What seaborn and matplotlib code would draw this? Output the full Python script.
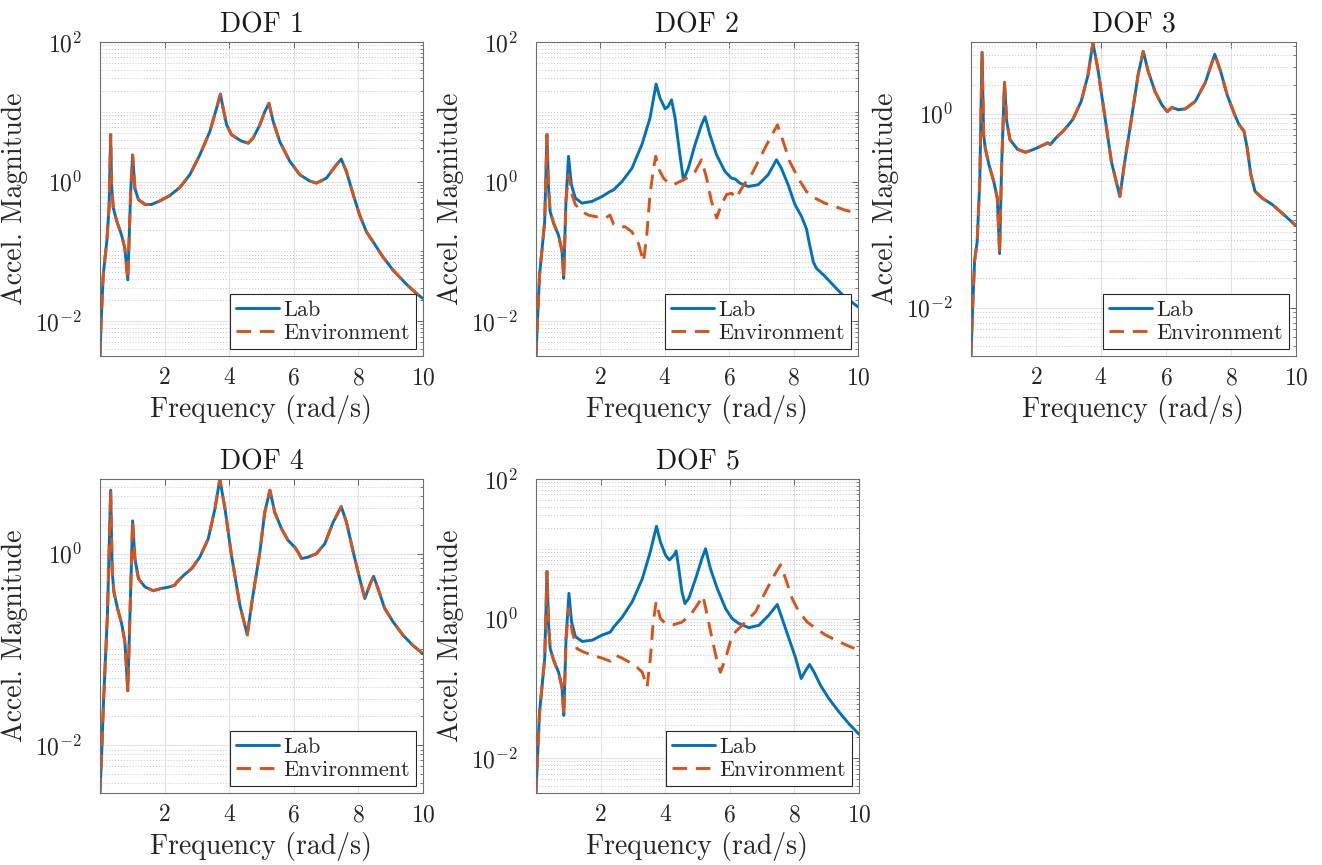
import numpy as np
import pandas as pd
import matplotlib
matplotlib.use("Agg")
import matplotlib.pyplot as plt
import seaborn as sns
from matplotlib.ticker import FixedLocator, FixedFormatter, LogLocator, NullFormatter, NullLocator

sns.set_style("white")
plt.rcParams['font.family'] = 'serif'
plt.rcParams['font.serif'] = ['cmr10']
plt.rcParams['mathtext.fontset'] = 'cm'
plt.rcParams['axes.formatter.use_mathtext'] = True


# values (frequency in rad/s, acceleration magnitude)
dof1_x = [0, 0.04, 0.10, 0.21, 0.28, 0.33, 0.36, 0.41, 0.52, 0.67, 0.77, 0.86, 0.95, 1.01, 1.08,
          1.19, 1.39, 1.60, 1.86, 2.16, 2.47, 2.78, 3.09, 3.40, 3.61, 3.73, 3.81, 3.92, 4.07, 4.23,
          4.38, 4.59, 4.74, 4.95, 5.10, 5.23, 5.36, 5.57, 5.88, 6.19, 6.49, 6.70, 7.01, 7.32, 7.47,
          7.63, 7.84, 8.04, 8.25, 8.45, 8.76, 9.07, 9.48, 9.79, 10.0]
dof1_lab = [0.0032, 0.011, 0.046, 0.138, 0.42, 4.7, 0.89, 0.42, 0.27, 0.17, 0.11, 0.039, 0.72, 2.4, 0.8,
            0.55, 0.47, 0.47, 0.53, 0.63, 0.82, 1.25, 2.4, 5.2, 11.3, 17.9, 11.3, 6.5, 4.7, 4.2,
            3.8, 3.55, 4.2, 6.5, 10.0, 13.2, 7.3, 3.7, 1.94, 1.25, 1.02, 0.95, 1.12, 1.74, 2.1,
            1.39, 0.65, 0.33, 0.19, 0.138, 0.083, 0.054, 0.034, 0.025, 0.021]
dof1_env = list(dof1_lab)

dof2_x = [0, 0.05, 0.11, 0.19, 0.27, 0.34, 0.39, 0.44, 0.55, 0.70, 0.81, 0.86, 0.93, 1.01, 1.10,
          1.22, 1.43, 1.74, 2.05, 2.30, 2.41, 2.67, 2.98, 3.29, 3.54, 3.73, 3.85, 4.01, 4.11, 4.21,
          4.32, 4.47, 4.58, 4.73, 4.94, 5.14, 5.25, 5.40, 5.61, 5.87, 6.07, 6.18, 6.33, 6.59, 6.90,
          7.21, 7.47, 7.62, 7.83, 8.04, 8.24, 8.40, 8.50, 8.61, 8.71, 8.97, 9.28, 9.59, 9.79, 10.0]
dof2_lab = [0.0032, 0.011, 0.046, 0.11, 0.27, 4.7, 0.8, 0.37, 0.25, 0.17, 0.10, 0.041, 0.52, 2.3, 0.9,
            0.58, 0.49, 0.52, 0.61, 0.72, 0.76, 1.0, 1.55, 3.4, 8.1, 25.0, 15.8, 11.0, 12.0, 14.8,
            8.1, 2.4, 1.05, 1.55, 3.4, 6.5, 8.5, 4.7, 2.4, 1.39, 1.12, 1.09, 0.95, 0.85, 0.9,
            1.25, 2.05, 1.55, 0.9, 0.47, 0.32, 0.21, 0.123, 0.071, 0.057, 0.044, 0.031, 0.022, 0.019, 0.016]
dof2_env_x = [0, 0.05, 0.11, 0.19, 0.27, 0.34, 0.39, 0.44, 0.55, 0.70, 0.81, 0.86, 0.93, 1.01, 1.12,
              1.22, 1.43, 1.63, 1.84, 2.15, 2.30, 2.41, 2.56, 2.77, 2.98, 3.18, 3.34, 3.44, 3.54, 3.65,
              3.72, 3.80, 3.96, 4.11, 4.27, 4.47, 4.68, 4.94, 5.14, 5.30, 5.45, 5.61, 5.76, 5.92, 6.07,
              6.23, 6.33, 6.49, 6.69, 6.90, 7.21, 7.50, 7.68, 7.88, 8.14, 8.40, 8.66, 8.97, 9.28, 9.59, 10.0]
dof2_env = [0.0032, 0.011, 0.046, 0.11, 0.27, 4.7, 0.8, 0.37, 0.25, 0.17, 0.10, 0.041, 0.52, 1.25, 0.65,
            0.47, 0.37, 0.33, 0.315, 0.30, 0.33, 0.245, 0.225, 0.225, 0.19, 0.13, 0.071, 0.17, 0.65, 1.55,
            2.3, 1.55, 1.12, 0.95, 0.9, 1.0, 1.12, 1.39, 2.05, 1.12, 0.52, 0.30, 0.47, 0.65, 0.68,
            0.58, 0.72, 0.95, 1.25, 1.94, 3.7, 6.5, 3.7, 1.94, 1.12, 0.72, 0.58, 0.49, 0.44, 0.39, 0.35]

dof3_x = [0, 0.05, 0.11, 0.19, 0.27, 0.34, 0.39, 0.44, 0.55, 0.70, 0.81, 0.88, 0.94, 1.03, 1.10,
          1.20, 1.43, 1.68, 1.94, 2.25, 2.36, 2.44, 2.61, 2.87, 3.13, 3.39, 3.60, 3.75, 3.90, 4.11,
          4.32, 4.58, 4.73, 4.94, 5.14, 5.30, 5.45, 5.66, 5.87, 6.04, 6.18, 6.38, 6.59, 6.90, 7.21,
          7.50, 7.68, 7.88, 8.09, 8.24, 8.40, 8.50, 8.61, 8.74, 8.97, 9.28, 9.59, 9.79, 10.0]
dof3_lab = [0.0032, 0.0098, 0.030, 0.048, 0.20, 4.3, 0.60, 0.44, 0.30, 0.20, 0.134, 0.036, 0.27, 2.1, 0.83,
            0.54, 0.43, 0.40, 0.43, 0.48, 0.50, 0.48, 0.56, 0.68, 0.87, 1.34, 2.5, 5.4, 2.95, 0.98,
            0.32, 0.14, 0.32, 0.90, 2.5, 4.4, 2.75, 1.70, 1.24, 1.05, 1.16, 1.10, 1.12, 1.34, 2.1,
            4.1, 2.75, 1.57, 1.02, 0.78, 0.66, 0.44, 0.235, 0.158, 0.134, 0.115, 0.093, 0.081, 0.070]
dof3_env = list(dof3_lab)

dof4_x = [0, 0.05, 0.10, 0.15, 0.23, 0.33, 0.38, 0.43, 0.54, 0.67, 0.77, 0.86, 0.93, 1.01, 1.08,
          1.19, 1.39, 1.65, 1.86, 2.16, 2.32, 2.37, 2.58, 2.84, 3.09, 3.35, 3.56, 3.71, 3.87, 4.07,
          4.33, 4.56, 4.72, 4.95, 5.10, 5.26, 5.41, 5.62, 5.82, 6.03, 6.13, 6.24, 6.44, 6.70, 6.96,
          7.22, 7.47, 7.63, 7.84, 8.04, 8.20, 8.35, 8.47, 8.61, 8.81, 9.07, 9.38, 9.69, 10.0]
dof4_lab = [0.0032, 0.0078, 0.024, 0.058, 0.23, 4.6, 0.64, 0.40, 0.27, 0.186, 0.12, 0.037, 0.245, 2.2, 0.89,
            0.55, 0.45, 0.41, 0.43, 0.45, 0.47, 0.50, 0.59, 0.70, 0.92, 1.43, 2.95, 6.0, 2.95, 0.96,
            0.29, 0.142, 0.34, 1.04, 2.7, 4.6, 2.7, 1.82, 1.38, 1.17, 1.04, 0.89, 0.92, 1.0, 1.27,
            2.14, 3.1, 2.14, 1.04, 0.55, 0.34, 0.47, 0.58, 0.43, 0.27, 0.195, 0.141, 0.11, 0.090]
dof4_env = list(dof4_lab)

dof5_x = [0, 0.05, 0.11, 0.19, 0.27, 0.34, 0.39, 0.44, 0.55, 0.70, 0.81, 0.86, 0.93, 1.02, 1.10,
          1.22, 1.43, 1.74, 2.05, 2.30, 2.41, 2.67, 2.98, 3.29, 3.54, 3.73, 3.85, 4.01, 4.13, 4.27,
          4.34, 4.42, 4.52, 4.61, 4.73, 4.94, 5.14, 5.25, 5.40, 5.61, 5.87, 6.07, 6.28, 6.59, 6.90,
          7.21, 7.47, 7.62, 7.83, 8.04, 8.21, 8.35, 8.47, 8.61, 8.81, 9.07, 9.38, 9.69, 10.0]
dof5_lab = [0.0032, 0.011, 0.046, 0.11, 0.27, 4.7, 0.8, 0.37, 0.25, 0.17, 0.10, 0.041, 0.52, 2.3, 0.9,
            0.55, 0.47, 0.49, 0.58, 0.64, 0.76, 1.05, 1.74, 3.7, 9.1, 21.0, 12.6, 8.1, 6.9, 8.1,
            9.3, 5.2, 2.4, 1.64, 1.94, 3.7, 7.3, 10.0, 5.2, 2.7, 1.39, 1.0, 0.85, 0.74, 0.80,
            1.12, 1.59, 1.0, 0.52, 0.27, 0.138, 0.18, 0.22, 0.17, 0.11, 0.071, 0.046, 0.031, 0.022]
dof5_env_x = [0, 0.05, 0.11, 0.19, 0.27, 0.34, 0.39, 0.44, 0.55, 0.70, 0.81, 0.86, 0.93, 1.01, 1.12,
              1.27, 1.48, 1.74, 2.05, 2.30, 2.46, 2.67, 2.87, 3.13, 3.29, 3.44, 3.54, 3.63, 3.72, 3.85,
              4.01, 4.27, 4.52, 4.78, 4.99, 5.17, 5.30, 5.45, 5.61, 5.71, 5.87, 6.02, 6.18, 6.38, 6.59,
              6.80, 7.00, 7.31, 7.57, 7.73, 7.93, 8.14, 8.40, 8.66, 8.97, 9.28, 9.59, 10.0]
dof5_env = [0.0032, 0.011, 0.046, 0.11, 0.27, 4.7, 0.8, 0.37, 0.25, 0.17, 0.10, 0.041, 0.52, 1.39, 0.65,
            0.37, 0.33, 0.30, 0.27, 0.245, 0.30, 0.27, 0.24, 0.20, 0.17, 0.105, 0.27, 0.89, 1.74, 1.0,
            0.85, 0.82, 0.89, 1.12, 1.55, 2.1, 1.12, 0.52, 0.24, 0.17, 0.27, 0.47, 0.65, 0.80, 1.0,
            1.25, 1.94, 3.7, 5.9, 3.7, 1.94, 1.25, 0.89, 0.72, 0.58, 0.49, 0.42, 0.35]

titles = ["DOF 1", "DOF 2", "DOF 3", "DOF 4", "DOF 5"]
series = [(dof1_x, dof1_lab, dof1_x, dof1_env),
          (dof2_x, dof2_lab, dof2_env_x, dof2_env),
          (dof3_x, dof3_lab, dof3_x, dof3_env),
          (dof4_x, dof4_lab, dof4_x, dof4_env),
          (dof5_x, dof5_lab, dof5_env_x, dof5_env)]
ylims = [(10**-2.5, 100), (10**-2.5, 100), (10**-2.5, 10**0.74), (10**-2.5, 10**0.78), (10**-2.5, 100)]

# axes boxes in pixels (left, top, right, bottom)
W, H = 1322, 865
boxes = [(100, 42, 423, 356), (536, 42, 858, 356), (971, 42, 1296, 356),
         (100, 479, 423, 793), (536, 479, 859, 793)]

blue = "#0072BD"
orange = "#D95319"

fig = plt.figure(figsize=(13.22, 8.65), dpi=100)
fig.patch.set_facecolor("white")

for i in range(5):
    l, t, r, b = boxes[i]
    ax = fig.add_axes([l / W, 1 - b / H, (r - l) / W, (b - t) / H])
    lab_x, lab_y, env_x, env_y = series[i]
    df = pd.concat([pd.DataFrame({"freq": lab_x, "mag": lab_y, "src": "Lab"}),
                    pd.DataFrame({"freq": env_x, "mag": env_y, "src": "Environment"})])
    sns.lineplot(data=df[df.src == "Lab"], x="freq", y="mag", color=blue, linewidth=2.1,
                 estimator=None, sort=False, label="Lab", ax=ax)
    sns.lineplot(data=df[df.src == "Environment"], x="freq", y="mag", color=orange, linewidth=2.1,
                 linestyle=(0, (5, 3)), estimator=None, sort=False, label="Environment", ax=ax)

    ax.set_yscale("log")
    ax.set_xlim(0, 10)
    ax.set_ylim(*ylims[i])
    ax.set_xticks([2, 4, 6, 8, 10])
    ax.xaxis.set_minor_locator(NullLocator())
    ax.yaxis.set_major_locator(FixedLocator([1e-2, 1e0, 1e2]))
    ax.yaxis.set_major_formatter(FixedFormatter([r"$10^{-2}$", r"$10^{0}$", r"$10^{2}$"]))
    ax.yaxis.set_minor_locator(LogLocator(base=10, subs=np.arange(1, 10), numticks=20))
    ax.yaxis.set_minor_formatter(NullFormatter())

    ax.set_axisbelow(True)
    ax.grid(True, which="major", color="#e3e3e3", linewidth=0.8)
    ax.grid(True, which="minor", axis="y", color="#c8c8c8", linestyle=(0, (1, 2)), linewidth=0.7)

    ax.tick_params(axis="both", which="both", direction="in", top=True, right=True,
                   color="#4d4d4d", labelsize=17, labelcolor="#262626")
    ax.tick_params(axis="both", which="major", length=4, width=0.6)
    ax.tick_params(axis="y", which="minor", length=2, width=0.5)
    ax.tick_params(axis="y", which="major", pad=13)
    ax.tick_params(axis="x", which="major", pad=8)
    for s in ax.spines.values():
        s.set_color("#6e6e6e")
        s.set_linewidth(0.8)

    ax.set_title(titles[i], fontsize=20, pad=7, color="#1a1a1a")
    ax.set_xlabel("Frequency (rad/s)", fontsize=20, color="#262626", labelpad=4)
    ax.set_ylabel("Accel. Magnitude", fontsize=20, color="#262626", labelpad=5)

    leg = ax.legend(loc="lower right", fontsize=16, frameon=True, fancybox=False,
                    edgecolor="#262626", framealpha=1, borderaxespad=0.3, handlelength=1.9,
                    handletextpad=0.2, labelspacing=0.15, borderpad=0.3)
    leg.get_frame().set_linewidth(0.8)

plt.savefig("out.png", dpi=100, facecolor="white")
